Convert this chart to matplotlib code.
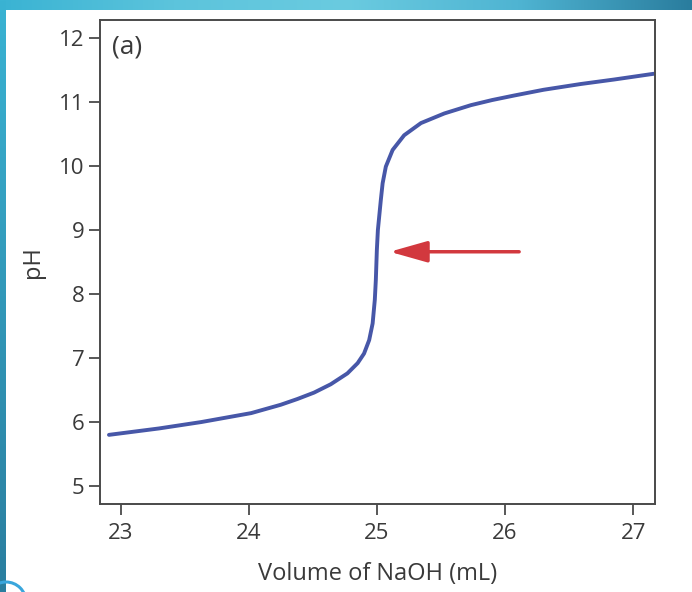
import matplotlib
matplotlib.use('Agg')
import matplotlib.pyplot as plt
import numpy as np
from matplotlib.colors import LinearSegmentedColormap
from matplotlib.patches import Circle

plt.rcParams['font.family'] = ['Open Sans', 'DejaVu Sans']

# titration curve: volume of NaOH (mL) vs pH
volume = [22.91, 23.30, 23.63, 24.02, 24.25, 24.38, 24.51, 24.64, 24.77,
          24.85, 24.90, 24.94, 24.967, 24.984, 24.992, 25.000, 25.008,
          25.031, 25.045, 25.070, 25.123, 25.213, 25.344, 25.526, 25.734,
          25.90, 26.07, 26.30, 26.59, 26.85, 27.16]
ph = [5.80, 5.90, 6.00, 6.14, 6.27, 6.36, 6.46, 6.59, 6.76,
      6.92, 7.07, 7.28, 7.54, 7.91, 8.22, 8.69, 9.00,
      9.47, 9.73, 9.99, 10.25, 10.48, 10.67, 10.82, 10.95,
      11.03, 11.10, 11.19, 11.28, 11.35, 11.44]

x_ticks = [23, 24, 25, 26, 27]
y_ticks = [5, 6, 7, 8, 9, 10, 11, 12]

# arrow pointing at the equivalence point
arrow_tail = (26.11, 8.66)
arrow_head = (25.10, 8.66)

TEXT = '#3a3a3a'
SPINE = '#4a4a4a'

fig = plt.figure(figsize=(6.92, 5.92), dpi=100)
fig.patch.set_facecolor('white')

# slide decoration: gradient bars along the top and left edge
deco = fig.add_axes([0, 0, 1, 1], zorder=0)
deco.axis('off')
top_cmap = LinearSegmentedColormap.from_list(
    'top', ['#3ab3d3', '#5cc4dc', '#6acbe0', '#4fb4d2', '#2a7d9e'])
deco.imshow(np.linspace(0, 1, 256)[None, :], cmap=top_cmap, aspect='auto',
            extent=(0, 692, 10, 0))
left_cmap = LinearSegmentedColormap.from_list('left', ['#3ab3d3', '#2a7e9f'])
deco.imshow(np.linspace(0, 1, 256)[:, None], cmap=left_cmap, aspect='auto',
            extent=(0, 6, 592, 0))
deco.add_patch(Circle((6, 602), 20, fill=False, edgecolor='#3aa6dc',
                      linewidth=2.2))
deco.set_xlim(0, 692)
deco.set_ylim(592, 0)

ax = fig.add_axes([100 / 692, 1 - 504 / 592, 555 / 692, 484 / 592], zorder=1)
ax.plot(volume, ph, color='#4757a8', linewidth=2.8,
        solid_capstyle='round', solid_joinstyle='round')

ax.annotate('', xy=arrow_head, xytext=arrow_tail,
            arrowprops=dict(arrowstyle='-|>,head_length=2.3,head_width=0.65',
                            color='#d2383e', linewidth=2.5,
                            shrinkA=0, shrinkB=0))

ax.set_xlim(22.84, 27.17)
ax.set_ylim(4.72, 12.28)
ax.set_xticks(x_ticks)
ax.set_yticks(y_ticks)
ax.tick_params(direction='out', length=8, width=1.3, color=SPINE,
               labelsize=16, labelcolor=TEXT)
ax.tick_params(axis='x', pad=6)
ax.tick_params(axis='y', pad=3)
for s in ax.spines.values():
    s.set_color(SPINE)
    s.set_linewidth(1.4)

ax.set_xlabel('Volume of NaOH (mL)', fontsize=17, color=TEXT, labelpad=13)
ax.set_ylabel('pH', fontsize=17, color=TEXT, labelpad=10)
ax.text(0.022, 0.97, '(a)', transform=ax.transAxes, ha='left', va='top',
        fontsize=19, color=TEXT)

fig.savefig('out.png', dpi=100, facecolor='white')
